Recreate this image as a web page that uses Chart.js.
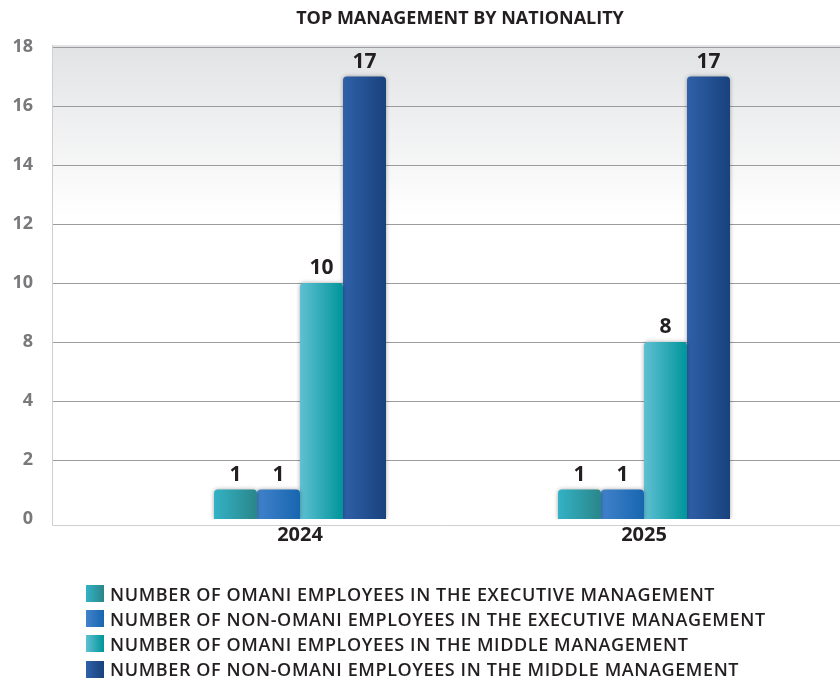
<!DOCTYPE html>
<html>
<head>
<meta charset="utf-8">
<script src="https://cdn.jsdelivr.net/npm/chart.js@4.4.1/dist/chart.umd.min.js"></script>
<style>
  body { margin: 0; background: #fff; font-family: "Open Sans", sans-serif; }
  #wrap { position: relative; width: 840px; height: 682px; }
  #title { position: absolute; top: 5px; left: 210px; width: 500px; text-align: center;
           font-weight: 700; font-size: 18px; color: #231f20; }
  #legend { position: absolute; left: 86px; top: 581px; }
  .row { display: flex; align-items: center; height: 25.2px; }
  .sw { width: 18px; height: 17px; margin-right: 6px; }
  .txt { font-weight: 600; font-size: 18px; letter-spacing: 0.6px; color: #231f20; white-space: nowrap; }
</style>
</head>
<body>
<div id="wrap">
  <canvas id="chart" width="840" height="682"></canvas>
  <div id="title">TOP MANAGEMENT BY NATIONALITY</div>
  <div id="legend"></div>
</div>
<script>
const categories = ['2024', '2025'];
const omaniExecutive = [1, 1];
const nonOmaniExecutive = [1, 1];
const omaniMiddle = [10, 8];
const nonOmaniMiddle = [17, 17];
const tickLabels = [0, 2, 4, 8, 10, 12, 14, 16, 18];

const seriesNames = [
    'NUMBER OF OMANI EMPLOYEES IN THE EXECUTIVE MANAGEMENT',
    'NUMBER OF NON-OMANI EMPLOYEES IN THE EXECUTIVE MANAGEMENT',
    'NUMBER OF OMANI EMPLOYEES IN THE MIDDLE MANAGEMENT',
    'NUMBER OF NON-OMANI EMPLOYEES IN THE MIDDLE MANAGEMENT'
];
const seriesValues = [omaniExecutive, nonOmaniExecutive, omaniMiddle, nonOmaniMiddle];
// left / right colour of each bar's horizontal gradient
const seriesColors = [
    ['#33b2c6', '#2a8689'],
    ['#4182cb', '#1866b0'],
    ['#5fc0d3', '#00959b'],
    ['#2f60a9', '#19427d']
];

// the axis ticks are evenly spaced but their labels are not, so values are
// placed by interpolating between the two labelled gridlines around them
function toAxis(v) {
    for (let i = 0; i < tickLabels.length - 1; i++) {
        if (v <= tickLabels[i + 1]) {
            return i + (v - tickLabels[i]) / (tickLabels[i + 1] - tickLabels[i]);
        }
    }
    return tickLabels.length - 1;
}

const PLOT_LEFT = 52;

// background gradient, gridlines and frame spanning the whole plot box
const plotBackground = {
    id: 'plotBackground',
    beforeDraw(chart) {
        const { ctx, chartArea, width } = chart;
        const y = chart.scales.y;
        const base = chartArea.bottom + 6;
        ctx.save();
        const g = ctx.createLinearGradient(0, chartArea.top, 0, chartArea.top + 170);
        g.addColorStop(0, '#e2e3e5');
        g.addColorStop(1, '#ffffff');
        ctx.fillStyle = g;
        ctx.fillRect(PLOT_LEFT, chartArea.top - 2, width - PLOT_LEFT, base - chartArea.top + 2);

        ctx.strokeStyle = '#9c9c9e';
        ctx.lineWidth = 1;
        y.ticks.forEach((t, i) => {
            if (t.value === 0) return;
            const py = Math.round(y.getPixelForTick(i)) + 0.5;
            ctx.beginPath();
            ctx.moveTo(PLOT_LEFT, py);
            ctx.lineTo(width, py);
            ctx.stroke();
        });

        ctx.strokeStyle = '#cfcfd1';
        ctx.beginPath();
        ctx.moveTo(PLOT_LEFT + 0.5, chartArea.top - 2);
        ctx.lineTo(PLOT_LEFT + 0.5, base + 0.5);
        ctx.lineTo(width, base + 0.5);
        ctx.stroke();
        ctx.restore();
    }
};

// gradient fill and soft shadow on every bar
const barStyle = {
    id: 'barStyle',
    beforeDatasetsDraw(chart) {
        const { ctx } = chart;
        chart.data.datasets.forEach((ds, di) => {
            chart.getDatasetMeta(di).data.forEach(bar => {
                const g = ctx.createLinearGradient(bar.x - bar.width / 2, 0, bar.x + bar.width / 2, 0);
                g.addColorStop(0, seriesColors[di][0]);
                g.addColorStop(1, seriesColors[di][1]);
                bar.options.backgroundColor = g;
            });
        });
        ctx.save();
        ctx.shadowColor = 'rgba(0, 0, 0, 0.35)';
        ctx.shadowBlur = 4;
    },
    afterDatasetsDraw(chart) {
        chart.ctx.restore();
    }
};

// value printed above each bar
const valueLabels = {
    id: 'valueLabels',
    afterDatasetsDraw(chart) {
        const { ctx } = chart;
        ctx.save();
        ctx.font = '700 21px "Open Sans"';
        ctx.fillStyle = '#231f20';
        ctx.textAlign = 'center';
        ctx.textBaseline = 'alphabetic';
        chart.data.datasets.forEach((ds, di) => {
            chart.getDatasetMeta(di).data.forEach((bar, i) => {
                ctx.fillText(String(seriesValues[di][i]), bar.x, bar.y - 9);
            });
        });
        ctx.restore();
    }
};

const datasets = seriesNames.map((name, i) => ({
    label: name,
    data: seriesValues[i].map(toAxis),
    // scriptable so every bar keeps its own options object
    backgroundColor: () => seriesColors[i][1],
    borderWidth: 0,
    borderRadius: 4,
    borderSkipped: 'start',
    barPercentage: 1,
    categoryPercentage: 0.5
}));

const chart = new Chart(document.getElementById('chart'), {
    type: 'bar',
    data: { labels: categories, datasets: datasets },
    plugins: [plotBackground, barStyle, valueLabels],
    options: {
        responsive: false,
        animation: false,
        layout: { padding: { top: 47, left: 10, right: 24, bottom: 139 } },
        plugins: { legend: { display: false }, tooltip: { enabled: false } },
        scales: {
            x: {
                offset: true,
                grid: { display: false },
                border: { display: false },
                ticks: { color: '#231f20', font: { family: 'Open Sans', size: 20, weight: '700' }, padding: -4 }
            },
            y: {
                min: 0,
                max: tickLabels.length - 1,
                grid: { display: false, drawTicks: false },
                border: { display: false },
                afterFit(scale) {
                    scale.width = 118;
                    scale.paddingTop = 11;
                    scale.paddingBottom = 11;
                },
                ticks: {
                    stepSize: 1,
                    padding: 95,
                    color: '#79797b',
                    font: { family: 'Open Sans', size: 18, weight: '700' },
                    callback: v => tickLabels[v]
                }
            }
        }
    }
});

// legend under the chart
const legend = document.getElementById('legend');
seriesNames.forEach((name, i) => {
    const row = document.createElement('div');
    row.className = 'row';
    const sw = document.createElement('div');
    sw.className = 'sw';
    sw.style.background = `linear-gradient(to right, ${seriesColors[i][0]}, ${seriesColors[i][1]})`;
    const txt = document.createElement('span');
    txt.className = 'txt';
    txt.textContent = name;
    row.appendChild(sw);
    row.appendChild(txt);
    legend.appendChild(row);
});
</script>
</body>
</html>
